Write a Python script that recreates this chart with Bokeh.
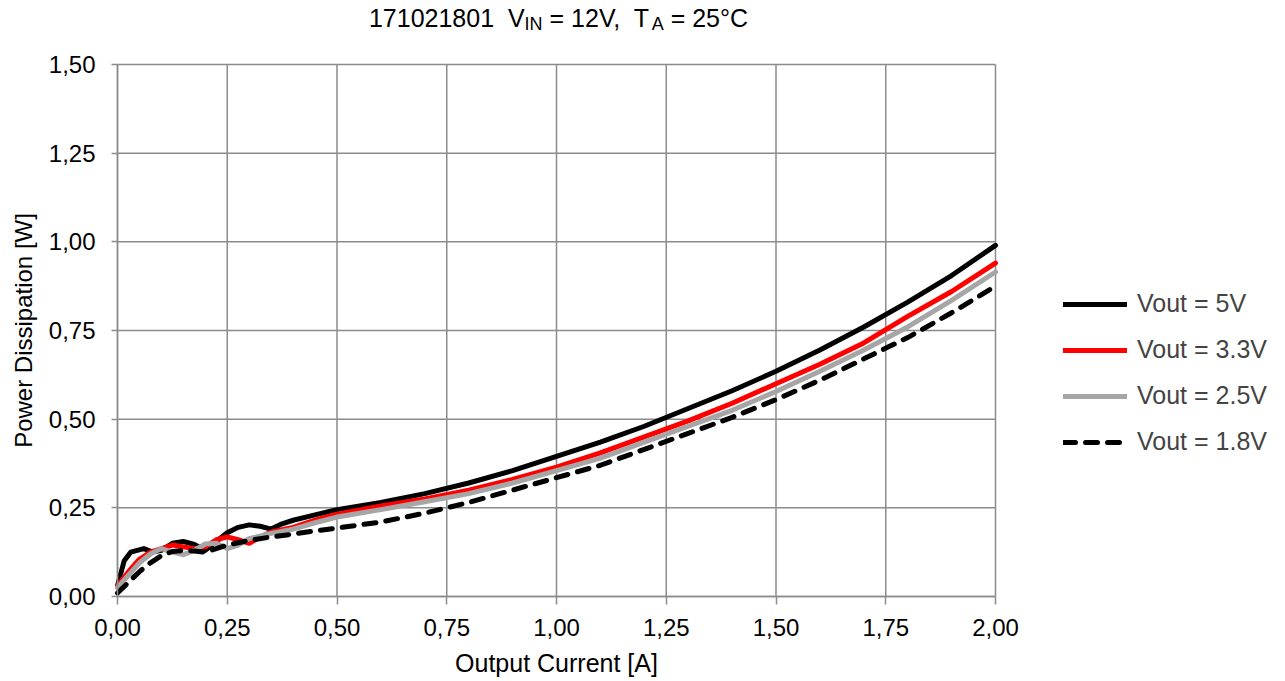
import math
from bokeh.plotting import figure
from bokeh.models import (Range1d, FixedTicker, CustomJSTickFormatter, Legend,
                          LegendItem, Label)
from bokeh.embed import file_html
from bokeh.resources import INLINE

# ---- data ----
x_5v = [0.00, 0.015, 0.03, 0.06, 0.08, 0.10, 0.125, 0.15, 0.175, 0.20, 0.225, 0.25,
        0.275, 0.30, 0.325, 0.35, 0.375, 0.40, 0.45, 0.50, 0.60, 0.70, 0.80, 0.90,
        1.00, 1.10, 1.20, 1.30, 1.40, 1.50, 1.60, 1.70, 1.80, 1.90, 2.00]
p_5v = [0.03, 0.10, 0.125, 0.135, 0.125, 0.13, 0.15, 0.155, 0.147, 0.13, 0.155, 0.18,
        0.195, 0.202, 0.198, 0.19, 0.205, 0.215, 0.23, 0.245, 0.265, 0.29, 0.32, 0.355,
        0.395, 0.435, 0.48, 0.53, 0.58, 0.635, 0.695, 0.76, 0.83, 0.905, 0.99]

x_33v = [0.00, 0.025, 0.05, 0.075, 0.10, 0.125, 0.15, 0.175, 0.20, 0.225, 0.25, 0.275,
         0.30, 0.325, 0.35, 0.40, 0.45, 0.50, 0.60, 0.70, 0.80, 0.90, 1.00, 1.10,
         1.20, 1.30, 1.40, 1.50, 1.60, 1.70, 1.80, 1.90, 2.00]
p_33v = [0.03, 0.07, 0.105, 0.125, 0.135, 0.145, 0.14, 0.135, 0.14, 0.16, 0.168, 0.16,
         0.15, 0.168, 0.182, 0.195, 0.215, 0.232, 0.255, 0.275, 0.30, 0.33, 0.365, 0.405,
         0.45, 0.495, 0.545, 0.60, 0.655, 0.715, 0.79, 0.86, 0.94]

x_25v = [0.00, 0.025, 0.05, 0.075, 0.10, 0.125, 0.15, 0.175, 0.20, 0.225, 0.25, 0.275,
         0.30, 0.35, 0.40, 0.45, 0.50, 0.60, 0.70, 0.80, 0.90, 1.00, 1.10, 1.20,
         1.30, 1.40, 1.50, 1.60, 1.70, 1.80, 1.90, 2.00]
p_25v = [0.025, 0.06, 0.095, 0.12, 0.135, 0.125, 0.118, 0.13, 0.148, 0.15, 0.135, 0.145,
         0.163, 0.178, 0.19, 0.208, 0.224, 0.245, 0.267, 0.29, 0.32, 0.355, 0.39, 0.435,
         0.48, 0.525, 0.578, 0.635, 0.695, 0.76, 0.835, 0.915]

x_18v = [0.00, 0.025, 0.05, 0.075, 0.10, 0.125, 0.15, 0.175, 0.20, 0.225, 0.25, 0.30,
         0.35, 0.40, 0.45, 0.50, 0.60, 0.70, 0.80, 0.90, 1.00, 1.10, 1.20, 1.30,
         1.40, 1.50, 1.60, 1.70, 1.80, 1.90, 2.00]
p_18v = [0.01, 0.04, 0.07, 0.095, 0.115, 0.127, 0.13, 0.128, 0.125, 0.135, 0.145, 0.158,
         0.168, 0.176, 0.185, 0.193, 0.21, 0.235, 0.265, 0.30, 0.335, 0.37, 0.415, 0.46,
         0.505, 0.555, 0.61, 0.67, 0.73, 0.80, 0.875]

series_labels = ["Vout = 5V", "Vout = 3.3V", "Vout = 2.5V", "Vout = 1.8V"]
x_ticks = [0.0, 0.25, 0.5, 0.75, 1.0, 1.25, 1.5, 1.75, 2.0]
y_ticks = [0.0, 0.25, 0.5, 0.75, 1.0, 1.25, 1.5]
x_title = "Output Current [A]"
y_title = "Power Dissipation [W]"

FONT = "Liberation Sans"
GRID = "#8c8c8c"

# canvas and plot-area geometry (pixels inside the figure)
W, H = 1285, 681
PL, PT, PR, PB = 117, 64, 995, 596          # plot area edges
XMAX, YMAX = 2.0, 1.5
SX = (PR - PL) / XMAX                        # px per A
SY = (PB - PT) / YMAX                        # px per W

p = figure(width=W, height=H, output_backend="svg", toolbar_location=None,
           x_range=Range1d(-PL / SX, (W - PL) / SX),
           y_range=Range1d(-(H - PB) / SY, PB / SY),
           min_border=0, background_fill_color="white",
           border_fill_color="white")
p.outline_line_color = None
p.xgrid.visible = False
p.ygrid.visible = False


def dx(px):
    return (px - PL) / SX


def dy(py):
    return (PB - py) / SY


# grid lines (at the tick positions, bounded to the plot area)
p.segment(x0=x_ticks, y0=[0.0] * len(x_ticks), x1=x_ticks, y1=[YMAX] * len(x_ticks),
          line_color=GRID, line_width=1.5)
p.segment(x0=[0.0] * len(y_ticks), y0=y_ticks, x1=[XMAX] * len(y_ticks), y1=y_ticks,
          line_color=GRID, line_width=1.5)

fmt = CustomJSTickFormatter(code="return tick.toFixed(2).replace('.', ',');")
for ax, ticks, bnd in ((p.xaxis, x_ticks, (0, XMAX)), (p.yaxis, y_ticks, (0, YMAX))):
    ax.fixed_location = 0
    ax.bounds = bnd
    ax.ticker = FixedTicker(ticks=ticks)
    ax.formatter = fmt
    ax.axis_line_color = GRID
    ax.axis_line_width = 1.5
    ax.major_tick_line_color = GRID
    ax.major_tick_line_width = 1.5
    ax.major_tick_in = 0
    ax.minor_tick_line_color = None
    ax.major_label_text_font = FONT
    ax.major_label_text_font_size = "24px"
    ax.major_label_text_color = "black"
p.xaxis.major_tick_out = 8
p.xaxis.major_label_standoff = 14
p.yaxis.major_tick_out = 6
p.yaxis.major_label_standoff = 16

LW = 5
r5 = p.line(x_5v, p_5v, line_color="black", line_width=LW, line_join="round",
            line_cap="round")
r33 = p.line(x_33v, p_33v, line_color="#ff0000", line_width=LW, line_join="round",
             line_cap="round")
r25 = p.line(x_25v, p_25v, line_color="#a6a6a6", line_width=LW, line_join="round",
             line_cap="round")
r18 = p.line(x_18v, p_18v, line_color="black", line_width=LW, line_dash="12 10",
             line_cap="round", line_join="round")

legend = Legend(items=[LegendItem(label=lab, renderers=[r]) for lab, r in
                       zip(series_labels, (r5, r33, r25, r18))],
                location=(1063, H - 456), orientation="vertical",
                margin=0, padding=0, spacing=17, glyph_height=28, label_height=28,
                glyph_width=64, label_standoff=10, border_line_color=None,
                background_fill_alpha=0, label_text_font=FONT,
                label_text_font_size="25px", label_text_baseline="middle")
p.add_layout(legend, "center")

# title pieces (main text + subscripts)
F, FS = 25, 18
w1, w2, w3, w4, w5 = 6.227 * F, 1.0 * FS, 4.364 * F, 0.667 * FS, 3.374 * F
total = w1 + w2 + w3 + w4 + w5
start = (PL + PR) / 2 - total / 2 + 2
pieces = [("171021801\u00a0 V", start, F, 0),
          ("IN", start + w1, FS, 6),
          ("\u00a0= 12V,\u00a0 T", start + w1 + w2, F, 0),
          ("A", start + w1 + w2 + w3, FS, 6),
          ("\u00a0= 25°C", start + w1 + w2 + w3 + w4, F, 0)]
base = 17
for txt, xp, fs, off in pieces:
    p.add_layout(Label(x=dx(xp), y=dy(base + off), text=txt, text_font=FONT,
                       text_font_size=f"{fs}px", text_align="left",
                       text_baseline="alphabetic", text_color="black"))

p.add_layout(Label(x=dx((PL + PR) / 2), y=dy(662), text=x_title, text_font=FONT,
                   text_font_size="25px", text_align="center",
                   text_baseline="alphabetic", text_color="black"))
p.add_layout(Label(x=dx(23), y=dy((PT + PB) / 2), text=y_title, text_font=FONT,
                   text_font_size="24px", text_align="center", angle=math.pi / 2,
                   text_baseline="alphabetic", text_color="black"))

open("out.html", "w").write(file_html(p, INLINE))
